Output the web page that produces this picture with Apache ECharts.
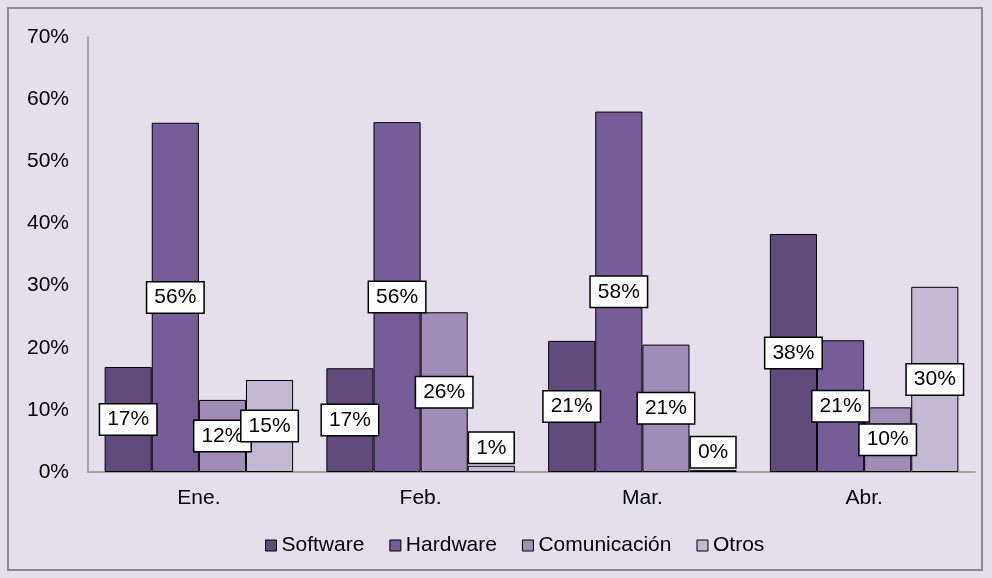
<!DOCTYPE html>
<html>
<head>
<meta charset="utf-8">
<script src="https://cdn.jsdelivr.net/npm/echarts@6/dist/echarts.min.js"></script>
<style>
  html, body { margin: 0; padding: 0; background: #ffffff; }
  #chart { width: 992px; height: 578px; }
</style>
</head>
<body>
<div id="chart"></div>
<script>
var months = ['Ene.', 'Feb.', 'Mar.', 'Abr.'];
var software = [16.9, 16.7, 21.1, 38.3];
var hardware = [56.2, 56.3, 58.0, 21.2];
var comunicacion = [11.6, 25.7, 20.5, 10.4];
var otros = [14.8, 1.0, 0.3, 29.8];
var yTicks = [0, 10, 20, 30, 40, 50, 60, 70];

var colors = ['#614B7C', '#765D98', '#9F8CB7', '#C3B9D2'];
var fontFamily = 'Liberation Sans, Arial, sans-serif';
var fontSize = 21;

function labelFor(data) {
  return data.map(function (v) {
    var item = { value: v };
    if (v < 3) {
      item.label = { position: 'top', distance: 3 };
    }
    return item;
  });
}

function makeSeries(name, data, color) {
  return {
    name: name,
    type: 'bar',
    data: labelFor(data),
    barGap: '0%',
    barCategoryGap: '15%',
    itemStyle: { color: color, borderColor: '#000', borderWidth: 1 },
    label: {
      show: true,
      position: 'inside',
      formatter: function (p) { return Math.round(p.value) + '%'; },
      color: '#000',
      fontSize: fontSize,
      fontFamily: fontFamily,
      backgroundColor: '#fff',
      borderColor: '#000',
      borderWidth: 1.5,
      padding: [5, 7, 4, 7]
    }
  };
}

var chart = echarts.init(document.getElementById('chart'));
chart.setOption({
  backgroundColor: '#E5DFEC',
  animation: false,
  graphic: [{
    type: 'rect',
    shape: { x: 8, y: 8, width: 974, height: 562 },
    style: { fill: 'none', stroke: '#8c8c8c', lineWidth: 2 },
    silent: true
  }],
  grid: { left: 88, right: 17, top: 37, bottom: 106 },
  legend: {
    bottom: 17,
    left: 260,
    itemWidth: 11,
    itemHeight: 11,
    itemGap: 25,
    icon: 'rect',
    textStyle: { fontSize: fontSize, fontFamily: fontFamily, color: '#000' },
    itemStyle: { borderColor: '#000', borderWidth: 1 }
  },
  xAxis: {
    type: 'category',
    data: months,
    axisLine: { lineStyle: { color: '#8c8c8c', width: 1.5 } },
    axisTick: { show: false },
    axisLabel: { fontSize: fontSize, fontFamily: fontFamily, color: '#000', margin: 16 }
  },
  yAxis: {
    type: 'value',
    min: yTicks[0],
    max: yTicks[yTicks.length - 1],
    interval: 10,
    axisLine: { show: true, lineStyle: { color: '#8c8c8c', width: 1.5 } },
    axisTick: { show: false },
    splitLine: { show: false },
    axisLabel: {
      fontSize: fontSize,
      fontFamily: fontFamily,
      color: '#000',
      margin: 19,
      formatter: '{value}%'
    }
  },
  series: [
    makeSeries('Software', software, colors[0]),
    makeSeries('Hardware', hardware, colors[1]),
    makeSeries('Comunicación', comunicacion, colors[2]),
    makeSeries('Otros', otros, colors[3])
  ]
});
</script>
</body>
</html>
